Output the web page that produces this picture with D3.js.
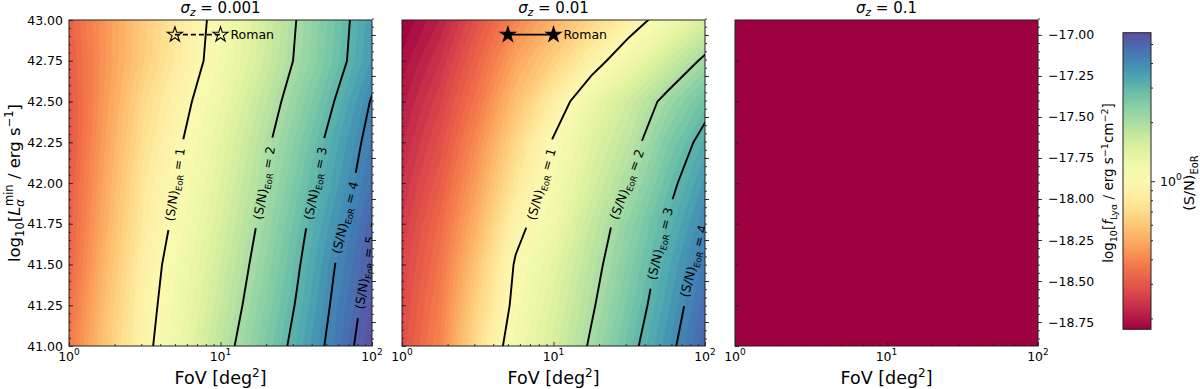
<!DOCTYPE html>
<html>
<head>
<meta charset="utf-8">
<script src="https://cdn.jsdelivr.net/npm/d3@7"></script>
<style>
  body { margin: 0; background: #fff; }
  text { font-family: "DejaVu Sans", sans-serif; fill: #000; }
</style>
</head>
<body>
<script>
// grid the S/N maps were sampled on
const fovGrid = [1, 1.778, 3.162, 5.623, 10, 17.78, 31.62, 56.23, 100]
const lminGrid = [41, 41.25, 41.5, 41.75, 42, 42.25, 42.5, 42.75, 43]

// (S/N)_EoR, one row per lminGrid value, one column per fovGrid value
const snrSz0001 = [
  [0.37, 0.60, 0.93, 1.29, 1.79, 2.41, 3.21, 4.32, 5.71],
  [0.35, 0.58, 0.90, 1.23, 1.68, 2.27, 3.04, 4.14, 5.47],
  [0.33, 0.55, 0.87, 1.18, 1.59, 2.15, 2.90, 3.97, 5.22],
  [0.32, 0.52, 0.82, 1.11, 1.50, 2.03, 2.76, 3.72, 5.00],
  [0.31, 0.50, 0.79, 1.06, 1.42, 1.91, 2.59, 3.46, 4.57],
  [0.30, 0.48, 0.74, 1.00, 1.35, 1.81, 2.43, 3.27, 4.33],
  [0.30, 0.46, 0.70, 0.93, 1.25, 1.68, 2.24, 3.00, 4.07],
  [0.31, 0.45, 0.63, 0.85, 1.14, 1.53, 2.05, 2.72, 3.63],
  [0.32, 0.45, 0.62, 0.83, 1.11, 1.49, 2.00, 2.66, 3.55]
]
const snrSz001 = [
  [0.285, 0.40, 0.72, 1.18, 1.53, 2.07, 2.79, 3.73, 4.98],
  [0.275, 0.38, 0.66, 1.08, 1.45, 1.94, 2.60, 3.50, 4.70],
  [0.265, 0.36, 0.60, 1.03, 1.36, 1.83, 2.45, 3.30, 4.40],
  [0.25, 0.34, 0.53, 0.91, 1.22, 1.70, 2.30, 3.05, 4.03],
  [0.235, 0.31, 0.47, 0.78, 1.12, 1.53, 2.03, 2.78, 3.65],
  [0.22, 0.285, 0.42, 0.68, 1.03, 1.42, 1.80, 2.50, 3.25],
  [0.205, 0.26, 0.37, 0.57, 0.84, 1.25, 1.62, 2.15, 2.75],
  [0.19, 0.235, 0.33, 0.48, 0.64, 0.88, 1.21, 1.60, 2.10],
  [0.176, 0.21, 0.29, 0.40, 0.52, 0.67, 0.87, 1.15, 1.50]
]
const snrSz01 = [
  [0.1, 0.1, 0.1, 0.1, 0.1, 0.1, 0.1, 0.1, 0.1],
  [0.1, 0.1, 0.1, 0.1, 0.1, 0.1, 0.1, 0.1, 0.1],
  [0.1, 0.1, 0.1, 0.1, 0.1, 0.1, 0.1, 0.1, 0.1],
  [0.1, 0.1, 0.1, 0.1, 0.1, 0.1, 0.1, 0.1, 0.1],
  [0.1, 0.1, 0.1, 0.1, 0.1, 0.1, 0.1, 0.1, 0.1],
  [0.1, 0.1, 0.1, 0.1, 0.1, 0.1, 0.1, 0.1, 0.1],
  [0.1, 0.1, 0.1, 0.1, 0.1, 0.1, 0.1, 0.1, 0.1],
  [0.1, 0.1, 0.1, 0.1, 0.1, 0.1, 0.1, 0.1, 0.1],
  [0.1, 0.1, 0.1, 0.1, 0.1, 0.1, 0.1, 0.1, 0.1]
]
const sigmaZ = ['0.001', '0.01', '0.1']
const snrLevels = [1, 2, 3, 4, 5]
const fovTicks = [1, 10, 100]
const lminTicks = [41, 41.25, 41.5, 41.75, 42, 42.25, 42.5, 42.75, 43]
const fluxTicks = [-17, -17.25, -17.5, -17.75, -18, -18.25, -18.5, -18.75]
const fluxRange = [-18.896, -16.909]
const snrRange = [0.176, 5.71]
const romanFov = [5, 10]
const romanLmin = 42.91
// where the contour labels sit: [level, FoV, log L]
const labelSpots = [
  [[1, 5.0, 41.99], [2, 20, 42.0], [3, 41, 42.0], [4, 66, 41.79], [5, 90, 41.45]],
  [[1, 7.8, 42.0], [2, 29, 42.0], [3, 49, 41.63], [4, 86, 41.52]],
  []
]

const W = 1200, H = 389
const pTop = 20, pBot = 346, pw = 303
const lefts = [69, 402, 735]
const maps = [snrSz0001, snrSz001, snrSz01]

const svg = d3.select('body').append('svg').attr('width', W).attr('height', H)
const defs = svg.append('defs')

const lo = Math.log10(snrRange[0]), hi = Math.log10(snrRange[1])
const nLev = 60
const fillLevels = d3.range(nLev).map(i => lo + (hi - lo) * i / nLev)

const nx = fovGrid.length, ny = lminGrid.length
const gx = d3.scaleLinear().domain([0.5, nx - 0.5]).range([Math.log10(fovGrid[0]), Math.log10(fovGrid[nx - 1])])
const gy = d3.scaleLinear().domain([0.5, ny - 0.5]).range([lminGrid[0], lminGrid[ny - 1]])

function sup(sel, base, exp, size, shift) {
  sel.append('tspan').text(base)
  sel.append('tspan').attr('font-size', size).attr('dy', -shift).text(exp)
}

maps.forEach((grid, p) => {
  const x0 = lefts[p]
  const x = d3.scaleLog().domain([1, 100]).range([x0, x0 + pw])
  const y = d3.scaleLinear().domain([41, 43]).range([pBot, pTop])
  const yf = d3.scaleLinear().domain(fluxRange).range([pBot, pTop])

  const values = grid.flatMap(r => r.map(v => Math.log10(v)))
  const proj = d3.geoTransform({
    point(cx, cy) { this.stream.point(x(Math.pow(10, gx(cx))), y(gy(cy))) }
  })
  const path = d3.geoPath(proj)

  defs.append('clipPath').attr('id', 'clip' + p)
    .append('rect').attr('x', x0).attr('y', pTop).attr('width', pw).attr('height', pBot - pTop)

  const mask = defs.append('mask').attr('id', 'mask' + p)
    .attr('maskUnits', 'userSpaceOnUse').attr('x', 0).attr('y', 0).attr('width', W).attr('height', H)
  mask.append('rect').attr('width', W).attr('height', H).attr('fill', 'white')

  const plot = svg.append('g').attr('clip-path', `url(#clip${p})`)

  // filled background, like contourf
  plot.append('rect').attr('x', x0).attr('y', pTop).attr('width', pw).attr('height', pBot - pTop)
    .attr('fill', d3.interpolateSpectral(0))
  const bands = d3.contours().size([nx, ny]).thresholds(fillLevels)(values)
  plot.append('g').selectAll('path').data(bands).enter().append('path')
    .attr('d', path)
    .attr('fill', (d, i) => d3.interpolateSpectral((i + 0.5) / nLev))
    .attr('stroke', (d, i) => d3.interpolateSpectral((i + 0.5) / nLev))
    .attr('stroke-width', 0.4)

  // S/N contour lines
  const lineG = plot.append('g').attr('mask', `url(#mask${p})`)
  const lines = d3.contours().size([nx, ny]).thresholds(snrLevels.map(Math.log10))(values)
  lineG.selectAll('path').data(lines).enter().append('path')
    .attr('d', path)
    .attr('fill', 'none')
    .attr('stroke', '#000')
    .attr('stroke-width', 1.9)

  const labelG = plot.append('g')
  labelSpots[p].forEach(([lev, fov, lm]) => {
    const node = lineG.selectAll('path').filter(d => Math.abs(d.value - Math.log10(lev)) < 1e-9).node()
    if (!node) return
    const total = node.getTotalLength()
    const ax = x(fov), ay = y(lm)
    let best = 0, bd = Infinity
    for (let s = 0; s <= total; s += 0.5) {
      const pt = node.getPointAtLength(s)
      const dd = (pt.x - ax) ** 2 + (pt.y - ay) ** 2
      if (dd < bd) { bd = dd; best = s }
    }
    const pc = node.getPointAtLength(best)
    const p0 = node.getPointAtLength(Math.max(0, best - 6))
    const p1 = node.getPointAtLength(Math.min(total, best + 6))
    let ang = Math.atan2(p1.y - p0.y, p1.x - p0.x) * 180 / Math.PI
    if (ang > 90) ang -= 180
    if (ang < -90) ang += 180
    const t = labelG.append('text')
      .attr('transform', `translate(${pc.x},${pc.y}) rotate(${ang})`)
      .attr('text-anchor', 'middle')
      .attr('font-size', 12.5)
      .attr('dy', 4.5)
    t.append('tspan').text('(S/N)')
    t.append('tspan').attr('font-size', 8.5).attr('dy', 3).text('EoR')
    t.append('tspan').attr('dy', -3).text(' = ' + lev)
    const len = t.node().getComputedTextLength()
    mask.append('rect')
      .attr('x', -len / 2 - 9).attr('y', -8).attr('width', len + 18).attr('height', 16)
      .attr('transform', `translate(${pc.x},${pc.y}) rotate(${ang})`)
      .attr('fill', 'black')
  })

  // Roman
  if (p < 2) {
    plot.append('line')
      .attr('x1', x(romanFov[0])).attr('x2', x(romanFov[1]))
      .attr('y1', y(romanLmin)).attr('y2', y(romanLmin))
      .attr('stroke', '#000').attr('stroke-width', 1.8)
      .attr('stroke-dasharray', p === 0 ? '5,3' : null)
    plot.selectAll('.star').data(romanFov).enter().append('path')
      .attr('transform', d => `translate(${x(d)},${y(romanLmin)})`)
      .attr('d', d3.symbol(d3.symbolStar, 70))
      .attr('fill', p === 0 ? 'none' : '#000')
      .attr('stroke', '#000').attr('stroke-width', 1.1)
    plot.append('text')
      .attr('x', x(romanFov[1]) + 10).attr('y', y(romanLmin) + 4.5)
      .attr('font-size', 12.5).text('Roman')
  }

  // axes
  const axG = svg.append('g')
  axG.append('g').attr('transform', `translate(${x0},0)`)
    .call(d3.axisLeft(y).tickValues(lminTicks).tickSize(-4).tickPadding(6)
      .tickFormat(p === 0 ? d3.format('.2f') : ''))
  axG.append('g').attr('transform', `translate(${x0},0)`)
    .call(d3.axisLeft(y).tickValues(d3.range(41.05, 43, 0.05)).tickSize(-2).tickFormat(''))
  axG.append('g').attr('transform', `translate(${x0 + pw},0)`)
    .call(d3.axisRight(yf).tickValues(fluxTicks).tickSize(4).tickPadding(6)
      .tickFormat(p === 2 ? d3.format('.2f') : ''))
  axG.append('g').attr('transform', `translate(${x0 + pw},0)`)
    .call(d3.axisRight(yf).tickValues(d3.range(-18.85, -16.9, 0.05)).tickSize(2).tickFormat(''))
  axG.append('g').attr('transform', `translate(0,${pBot})`)
    .call(d3.axisBottom(x).tickValues(fovTicks).tickSize(-4).tickFormat(''))
  axG.append('g').attr('transform', `translate(0,${pBot})`)
    .call(d3.axisBottom(x).tickValues(x.ticks().filter(v => !fovTicks.includes(v))).tickSize(-2).tickFormat(''))
  axG.selectAll('.domain').remove()
  axG.selectAll('.tick line').attr('stroke', '#222').attr('stroke-width', 0.9)
  axG.selectAll('.tick text').attr('font-size', 12.5).attr('font-family', '"DejaVu Sans", sans-serif').attr('fill', '#000')

  fovTicks.forEach((v, i) => {
    const t = axG.append('text').attr('x', x(v)).attr('y', 361).attr('text-anchor', 'middle').attr('font-size', 12.5)
    sup(t, '10', String(i), 9, 6)
  })

  svg.append('rect').attr('x', x0).attr('y', pTop).attr('width', pw).attr('height', pBot - pTop)
    .attr('fill', 'none').attr('stroke', '#222').attr('stroke-width', 1)

  // title + x label
  const ti = svg.append('text').attr('x', x0 + pw / 2).attr('y', 12.5).attr('text-anchor', 'middle').attr('font-size', 15)
  ti.append('tspan').attr('font-style', 'italic').text('σ')
  ti.append('tspan').attr('font-style', 'italic').attr('font-size', 10.5).attr('dy', 3).text('z')
  ti.append('tspan').attr('dy', -3).text(' = ' + sigmaZ[p])

  const xl = svg.append('text').attr('x', x0 + pw / 2).attr('y', 384).attr('text-anchor', 'middle').attr('font-size', 17.5)
  xl.append('tspan').text('FoV [deg')
  xl.append('tspan').attr('font-size', 12).attr('dy', -7).text('2')
  xl.append('tspan').attr('dy', 7).text(']')
})

// left y label
const yl = svg.append('text').attr('transform', 'translate(20,' + ((pTop + pBot) / 2) + ') rotate(-90)')
  .attr('text-anchor', 'middle').attr('font-size', 16.5)
yl.append('tspan').text('log')
yl.append('tspan').attr('font-size', 11.5).attr('dy', 4).text('10')
yl.append('tspan').attr('dy', -4).text('[')
yl.append('tspan').attr('font-style', 'italic').text('L')
yl.append('tspan').attr('font-style', 'italic').attr('font-size', 11.5).attr('dy', 4).text('α')
yl.append('tspan').attr('font-size', 11.5).attr('dx', -7).attr('dy', -11).text('min')
yl.append('tspan').attr('dy', 7).text(' / erg s')
yl.append('tspan').attr('font-size', 11.5).attr('dy', -7).text('−1')
yl.append('tspan').attr('dy', 7).text(']')

// right y label
const yr = svg.append('text').attr('transform', 'translate(1113,' + ((pTop + pBot) / 2) + ') rotate(-90)')
  .attr('text-anchor', 'middle').attr('font-size', 13.5)
yr.append('tspan').text('log')
yr.append('tspan').attr('font-size', 9.5).attr('dy', 3.5).text('10')
yr.append('tspan').attr('dy', -3.5).text('[')
yr.append('tspan').attr('font-style', 'italic').text('f')
yr.append('tspan').attr('font-size', 9.5).attr('dy', 3.5).text('Lyα')
yr.append('tspan').attr('dy', -3.5).text(' / erg s')
yr.append('tspan').attr('font-size', 9.5).attr('dy', -5.5).text('−1')
yr.append('tspan').attr('dy', 5.5).text('cm')
yr.append('tspan').attr('font-size', 9.5).attr('dy', -5.5).text('−2')
yr.append('tspan').attr('dy', 5.5).text(']')

// colorbar
const cbX = 1123, cbW = 28, cbTop = 32.7, cbBot = 329.3
const grad = defs.append('linearGradient').attr('id', 'cbar').attr('x1', 0).attr('x2', 0).attr('y1', 1).attr('y2', 0)
d3.range(0, 1.0001, 0.05).forEach(s => grad.append('stop').attr('offset', s).attr('stop-color', d3.interpolateSpectral(s)))
svg.append('rect').attr('x', cbX).attr('y', cbTop).attr('width', cbW).attr('height', cbBot - cbTop)
  .attr('fill', 'url(#cbar)').attr('stroke', '#222').attr('stroke-width', 1)
const cy = d3.scaleLog().domain(snrRange).range([cbBot, cbTop])
const cbAx = svg.append('g').attr('transform', `translate(${cbX + cbW},0)`)
cbAx.append('g').call(d3.axisRight(cy).tickValues([1]).tickSize(4).tickFormat(''))
cbAx.append('g').call(d3.axisRight(cy).tickValues(cy.ticks().filter(v => v !== 1)).tickSize(2).tickFormat(''))
cbAx.selectAll('.domain').remove()
cbAx.selectAll('.tick line').attr('stroke', '#222')
const c0 = svg.append('text').attr('x', cbX + cbW + 9).attr('y', cy(1) + 5).attr('font-size', 12.5)
sup(c0, '10', '0', 9, 6)
const cl = svg.append('text').attr('transform', 'translate(1194,' + ((pTop + pBot) / 2) + ') rotate(-90)')
  .attr('text-anchor', 'middle').attr('font-size', 14.5)
cl.append('tspan').text('(S/N)')
cl.append('tspan').attr('font-size', 10).attr('dy', 3.5).text('EoR')
</script>
</body>
</html>
